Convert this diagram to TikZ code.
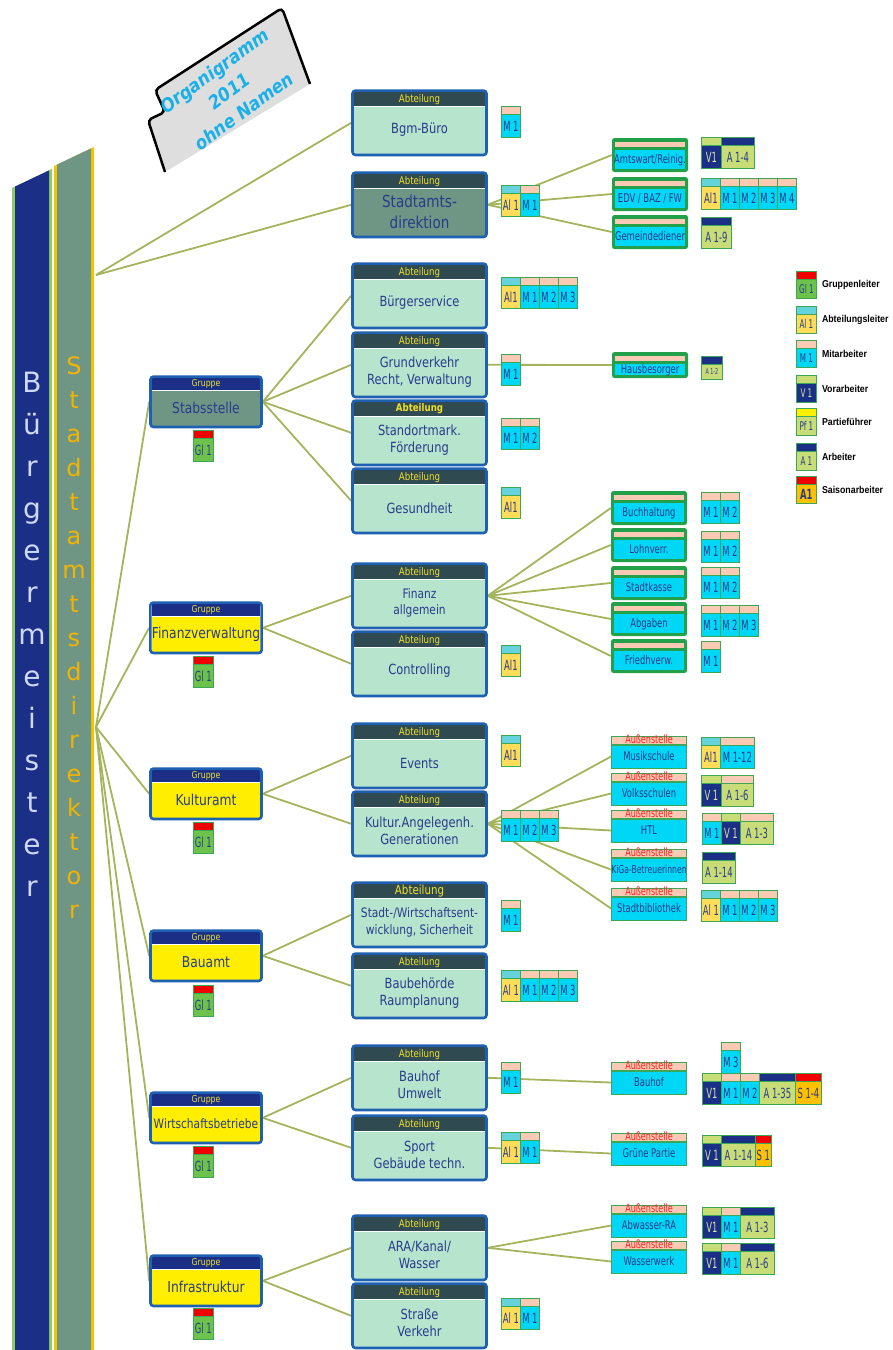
\documentclass[tikz,border=0pt]{standalone}
\usepackage{fontspec}
\setmainfont{DejaVu Sans}[FakeStretch=0.82]
\newfontfamily\cellfont{DejaVu Sans}[FakeStretch=0.6]
\newfontfamily\unitfont{DejaVu Sans}[FakeStretch=0.7]
\newfontfamily\barfont{DejaVu Sans}
\newfontfamily\titlefont{DejaVu Sans}[FakeStretch=0.9]
\newfontfamily\legendfont{Liberation Sans}[FakeStretch=0.88]
\usetikzlibrary{positioning, fit, backgrounds}
\definecolor{barblue}{RGB}{27, 47, 134}
\definecolor{baredge}{RGB}{143, 202, 106}
\definecolor{bargray}{RGB}{111, 149, 132}
\definecolor{baryellow}{RGB}{245, 196, 0}
\definecolor{bmtext}{RGB}{205, 218, 245}
\definecolor{sdtext}{RGB}{242, 180, 0}
\definecolor{linkcol}{RGB}{165, 180, 92}
\definecolor{frameblue}{RGB}{30, 96, 178}
\definecolor{abtslate}{RGB}{48, 74, 82}
\definecolor{headyellow}{RGB}{240, 226, 40}
\definecolor{abtmint}{RGB}{182, 228, 205}
\definecolor{navy}{RGB}{40, 60, 140}
\definecolor{grpyellow}{RGB}{255, 238, 0}
\definecolor{cellgreen}{RGB}{60, 168, 85}
\definecolor{unitgreen}{RGB}{34, 160, 74}
\definecolor{mcyan}{RGB}{0, 214, 246}
\definecolor{msalmon}{RGB}{251, 202, 180}
\definecolor{alyellow}{RGB}{255, 220, 90}
\definecolor{alcyan}{RGB}{102, 210, 220}
\definecolor{aolive}{RGB}{200, 220, 120}
\definecolor{vtext}{RGB}{215, 230, 160}
\definecolor{glgreen}{RGB}{108, 194, 74}
\definecolor{topred}{RGB}{240, 0, 0}
\definecolor{pfyellow}{RGB}{255, 240, 0}
\definecolor{sorange}{RGB}{255, 192, 0}
\definecolor{aured}{RGB}{255, 32, 32}
\definecolor{titlecyan}{RGB}{26, 176, 232}
\definecolor{cardgray}{RGB}{222, 222, 222}
\tikzset{
  link/.style={draw=linkcol, line width=1.8pt},
  bmletter/.style={text=bmtext, font=\barfont\fontsize{28}{28}\selectfont,
                   text height=21pt, text depth=6pt},
  sdletter/.style={text=sdtext, font=\barfont\fontsize{24}{24}\selectfont,
                   text height=18pt, text depth=5pt},
  titletext/.style={text=titlecyan, align=center,
                    font=\titlefont\bfseries\itshape\fontsize{18.5}{25}\selectfont},
  abtbody/.style={fill=abtmint, minimum width=131pt, minimum height=47pt, inner sep=1pt,
                  align=center, text=navy, font=\fontsize{14}{17}\selectfont},
  abthead/.style={fill=abtslate, minimum width=131pt, minimum height=14pt, inner sep=0pt,
                  text=headyellow, font=\fontsize{10.5}{12}\selectfont},
  grpbody/.style={fill=grpyellow, minimum width=108pt, minimum height=35pt, inner sep=0pt,
                  text=navy, font=\fontsize{15}{18}\selectfont},
  grphead/.style={fill=barblue, minimum width=108pt, minimum height=12pt, inner sep=0pt,
                  text=headyellow, font=\fontsize{9.5}{11}\selectfont},
  boxframe/.style={draw=frameblue, line width=2.6pt, rounded corners=3pt, inner sep=1.3pt},
  unit/.style={fill=unitgreen, rounded corners=2.5pt, minimum width=76pt, minimum height=34pt,
               inner sep=0pt, text=navy, font=\unitfont\fontsize{12}{13}\selectfont,
               text height=17.3pt, text depth=0pt,
               path picture={
                 \fill[msalmon, sharp corners] ([xshift=3pt, yshift=-3.5pt]path picture bounding box.north west)
                   rectangle ([xshift=-3pt, yshift=-8.5pt]path picture bounding box.north east);
                 \fill[mcyan, sharp corners] ([xshift=3pt, yshift=-11.5pt]path picture bounding box.north west)
                   rectangle ([xshift=-3pt, yshift=3pt]path picture bounding box.south east);}},
  aubody/.style={draw=cellgreen, line width=0.9pt, fill=mcyan, minimum width=75pt,
                 minimum height=23pt, inner sep=0pt, text=navy, font=\unitfont\fontsize{12}{13}\selectfont},
  auhead/.style={draw=cellgreen, line width=0.9pt, fill=msalmon, minimum width=75pt,
                 minimum height=8pt, inner sep=0pt, text=aured, font=\unitfont\fontsize{11.5}{11.5}\selectfont,
                 text height=6.5pt, text depth=0.5pt},
  staff/.style 2 args={draw=cellgreen, line width=0.8pt, fill=#1, anchor=north west,
                 minimum width=19pt, minimum height=31pt, inner sep=0pt, text=navy,
                 font=\cellfont\fontsize{14}{14}\selectfont, text height=18.2pt, text depth=0pt,
                 path picture={
                   \fill[#2] (path picture bounding box.north west)
                     rectangle ([yshift=-8pt]path picture bounding box.north east);
                   \draw[cellgreen, line width=0.6pt] ([yshift=-8pt]path picture bounding box.north west)
                     -- ([yshift=-8pt]path picture bounding box.north east);}},
  mcell/.style={staff={mcyan}{msalmon}},
  alcell/.style={staff={alyellow}{alcyan}},
  vcell/.style={staff={barblue}{aolive}, text=vtext},
  acell/.style={staff={aolive}{barblue}},
  aacell/.style={staff={aolive}{msalmon}},
  glcell/.style={staff={glgreen}{topred}},
  pfcell/.style={staff={aolive}{pfyellow}},
  scell/.style={staff={sorange}{topred}},
  legcell/.style={minimum width=20pt, minimum height=27pt,
                  font=\cellfont\fontsize{12}{12}\selectfont, text height=16.5pt},
  legtext/.style={font=\legendfont\bfseries\fontsize{10}{11}\selectfont, inner sep=0pt},
}
% Abteilung: [body options]{name}{body y}{header}{text}
\newcommand\abteilung[5][]{%
  \node[abtbody, #1] (#2-b) at (419.5,#3) {#5};
  \node[abthead, above=0pt of #2-b] (#2-h) {#4};
  \node[boxframe, fit=(#2-h)(#2-b)] (#2) {};}
% Gruppe: [body options]{name}{body y}{text}
\newcommand\gruppe[4][]{%
  \node[grpbody, #1] (#2-b) at (206,#3) {#4};
  \node[grphead, above=0pt of #2-b] (#2-h) {Gruppe};
  \node[boxframe, fit=(#2-h)(#2-b)] (#2) {};}
% Aussenstelle: [body options]{name}{body y}{text}
\newcommand\aussen[4][]{%
  \node[aubody, #1] (#2) at (649,#3) {#4};
  \node[auhead, above=0pt of #2] (#2-h) {Außenstelle};}

\begin{document}
\begin{tikzpicture}[x=1pt, y=-1pt]
  \useasboundingbox (0,0) rectangle (892,1350);

  % Buergermeister and Stadtamtsdirektor bars
  \fill[baredge]   (12,188) -- (52,169) -- (52,1350) -- (12,1350) -- cycle;
  \fill[barblue]   (15,186.6) -- (49,170.4) -- (49,1350) -- (15,1350) -- cycle;
  \fill[baryellow] (54,166) -- (94,147) -- (94,1350) -- (54,1350) -- cycle;
  \fill[bargray]   (57,164.6) -- (91,148.4) -- (91,1350) -- (57,1350) -- cycle;
  \foreach \ch [count=\k] in {B,ü,r,g,e,r,m,e,i,s,t,e,r}
    \node[bmletter] (bm\k) at (32,343+42*\k) {\ch};
  \foreach \ch [count=\k] in {S,t,a,d,t,a,m,t,s,d,i,r,e,k,t,o,r}
    \node[sdletter] (sd\k) at (74,334+34*\k) {\ch};
  \coordinate (sdtop) at (96,275);
  \coordinate (sdmid) at (96,727);

  % title card
  \fill[cardgray, rounded corners=4pt]
    (155,90) -- (282,8) -- (310,84) -- (165,172) -- (148,120) -- (165,112) -- cycle;
  \draw[line width=2.5pt, rounded corners=4pt]
    (165,172) -- (148,120) -- (165,112) -- (155,90) -- (282,8) -- (310,84);
  \node[titletext, rotate=36] (title) at (229,91) {Organigramm\\2011\\ohne Namen};

  % Gruppen
  \gruppe[fill=bargray]{stab}{408}{Stabsstelle}
  \gruppe{fin}{634}{Finanzverwaltung}
  \gruppe{kul}{800}{Kulturamt}
  \gruppe{bau}{962}{Bauamt}
  \gruppe[font=\fontsize{13}{15}\selectfont]{wb}{1124}{Wirtschaftsbetriebe}
  \gruppe{inf}{1287}{Infrastruktur}
  \foreach \g/\y in {stab/430, fin/656, kul/822, bau/985, wb/1146, inf/1308}
    \node[glcell, minimum width=20pt] (\g-gl) at (193,\y) {Gl 1};

  % Abteilungen
  \abteilung{bgm}{130}{Abteilung}{Bgm-Büro}
  \abteilung[fill=bargray, font=\fontsize{16.5}{21}\selectfont]{sad}{212}{Abteilung}{Stadtamts-\\direktion}
  \abteilung{bs}{303}{Abteilung}{Bürgerservice}
  \abteilung{gv}{372}{Abteilung}{Grundverkehr\\Recht, Verwaltung}
  \abteilung{sm}{440}{\bfseries Abteilung}{Standortmark.\\Förderung}
  \abteilung{ges}{508}{Abteilung}{Gesundheit}
  \abteilung[font=\fontsize{13}{16}\selectfont]{fa}{603}{Abteilung}{Finanz\\allgemein}
  \abteilung{con}{671}{Abteilung}{Controlling}
  \abteilung{ev}{763}{Abteilung}{Events}
  \abteilung{ka}{831}{Abteilung}{Kultur.Angelegenh.\\Generationen}
  \abteilung[font=\fontsize{13}{17}\selectfont]{sw}{922}{\fontsize{12.5}{13}\selectfont Abteilung}{Stadt-/Wirtschaftsent-\\wicklung, Sicherheit}
  \abteilung{bb}{993}{Abteilung}{Baubehörde\\Raumplanung}
  \abteilung{bu}{1085}{Abteilung}{Bauhof\\Umwelt}
  \abteilung{sp}{1155}{Abteilung}{Sport\\Gebäude techn.}
  \abteilung{ara}{1255}{Abteilung}{ARA/Kanal/\\Wasser}
  \abteilung{sv}{1323}{Abteilung}{Straße\\Verkehr}

  % units
  \node[unit] (aw)  at (650,155) {Amtswart/Reinig.};
  \node[unit] (edv) at (650,194) {EDV / BAZ / FW};
  \node[unit] (gd)  at (650,232) {Gemeindediener};
  \node[unit, minimum height=26pt] (hb) at (650,365) {Hausbesorger};
  \node[unit] (buch)  at (649,508) {Buchhaltung};
  \node[unit] (lohn)  at (649,545) {Lohnverr.};
  \node[unit] (kasse) at (649,583) {Stadtkasse};
  \node[unit] (abg)   at (649,619) {Abgaben};
  \node[unit] (fried) at (649,656) {Friedhverw.};
  \aussen{mus}{756.5}{Musikschule}
  \aussen{vs}{793.5}{Volksschulen}
  \aussen{htl}{830.5}{HTL}
  \aussen[font=\unitfont\fontsize{11}{12}\selectfont]{kiga}{869.5}{KiGa-Betreuerinnen}
  \aussen{bib}{908.5}{Stadtbibliothek}
  \aussen{bhf}{1082.5}{Bauhof}
  \aussen{gp}{1153.5}{Grüne Partie}
  \aussen{abw}{1225.5}{Abwasser-RA}
  \aussen{ww}{1261.5}{Wasserwerk}

  % staff
  \node[mcell] (bgm1) at (501,106) {M 1};
  \node[alcell] (sad1) at (501,185) {Al 1};
  \node[mcell]  (sad2) at (520,185) {M 1};
  \node[vcell, minimum width=20pt] (aw1) at (701,137) {V1};
  \node[acell, minimum width=33pt] (aw2) at (721,137) {A 1-4};
  \node[alcell] (edv0) at (701,178) {Al1};
  \foreach \i in {1,...,4}
    \node[mcell] (edv\i) at (701+19*\i,178) {M \i};
  \node[acell, minimum width=30pt] (gd1) at (701,217) {A 1-9};
  \node[alcell] (bs0) at (501,277) {Al1};
  \foreach \i in {1,2,3}
    \node[mcell] (bs\i) at (501+19*\i,277) {M \i};
  \node[mcell] (gv1) at (501,354) {M 1};
  \node[acell, minimum width=21pt, minimum height=23pt, font=\cellfont\fontsize{8}{8}\selectfont,
        text height=13.8pt] (hb1) at (701,356) {A 1-2};
  \node[mcell] (sm1) at (501,418) {M 1};
  \node[mcell] (sm2) at (520,418) {M 2};
  \node[alcell] (ges1) at (501,487) {Al1};
  \foreach \y/\n [count=\k] in {492/2, 531/2, 567/2, 605/3, 641/1}
    \foreach \i in {1,...,\n}
      \node[mcell] (fi\k\i) at (682+19*\i,\y) {M \i};
  \node[alcell] (con1) at (501,645) {Al1};
  \node[alcell] (ev1) at (501,735) {Al1};
  \foreach \i in {1,2,3}
    \node[mcell] (ka\i) at (482+19*\i,810) {M \i};
  \node[alcell] (mus1) at (701,737) {Al1};
  \node[mcell, minimum width=34pt] (mus2) at (720,737) {M 1-12};
  \node[vcell, minimum width=20pt] (vs1) at (701,775) {V 1};
  \node[aacell, minimum width=32pt] (vs2) at (721,775) {A 1-6};
  \node[mcell] (htl1) at (702,813) {M 1};
  \node[vcell] (htl2) at (721,813) {V 1};
  \node[aacell, minimum width=33pt] (htl3) at (740,813) {A 1-3};
  \node[acell, minimum width=33pt] (kiga1) at (702,852) {A 1-14};
  \node[alcell] (bib0) at (701,890) {Al 1};
  \foreach \i in {1,2,3}
    \node[mcell] (bib\i) at (701+19*\i,890) {M \i};
  \node[mcell] (sw1) at (501,900) {M 1};
  \node[alcell] (bb0) at (501,970) {Al 1};
  \foreach \i in {1,2,3}
    \node[mcell] (bb\i) at (501+19*\i,970) {M \i};
  \node[mcell] (bu1) at (501,1062) {M 1};
  \node[mcell] (bhf3) at (721,1042) {M 3};
  \node[vcell] (bhf0) at (702,1073) {V1};
  \node[mcell] (bhf1) at (721,1073) {M 1};
  \node[mcell] (bhf2) at (740,1073) {M 2};
  \node[acell, minimum width=36pt] (bhf4) at (759,1073) {A 1-35};
  \node[scell, minimum width=26pt] (bhf5) at (795,1073) {S 1-4};
  \node[alcell] (sp1) at (501,1132) {Al 1};
  \node[mcell] (sp2) at (520,1132) {M 1};
  \node[vcell] (gp1) at (702,1135) {V 1};
  \node[acell, minimum width=34pt] (gp2) at (721,1135) {A 1-14};
  \node[scell, minimum width=16pt] (gp3) at (755,1135) {S 1};
  \node[vcell] (abw1) at (702,1207) {V1};
  \node[mcell] (abw2) at (721,1207) {M 1};
  \node[acell, minimum width=34pt] (abw3) at (740,1207) {A 1-3};
  \node[vcell] (ww1) at (702,1243) {V1};
  \node[mcell] (ww2) at (721,1243) {M 1};
  \node[acell, minimum width=34pt] (ww3) at (740,1243) {A 1-6};
  \node[alcell] (sv1) at (501,1298) {Al 1};
  \node[mcell] (sv2) at (520,1298) {M 1};

  % legend
  \node[glcell, legcell] (lg1) at (796,271) {Gl 1};
  \node[alcell, legcell] (lg2) at (796,306) {Al 1};
  \node[mcell, legcell]  (lg3) at (796,340) {M 1};
  \node[vcell, legcell]  (lg4) at (796,375) {V 1};
  \node[pfcell, legcell] (lg5) at (796,408) {Pf 1};
  \node[acell, legcell]  (lg6) at (796,443) {A 1};
  \node[scell, legcell, font=\cellfont\bfseries\fontsize{14}{14}\selectfont,
        text height=18.2pt] (lg7) at (796,476) {A1};
  \node[legtext, right=5pt of lg1] (lt1) {Gruppenleiter};
  \node[legtext, right=5pt of lg2] (lt2) {Abteilungsleiter};
  \node[legtext, right=5pt of lg3] (lt3) {Mitarbeiter};
  \node[legtext, right=5pt of lg4] (lt4) {Vorarbeiter};
  \node[legtext, right=5pt of lg5] (lt5) {Partieführer};
  \node[legtext, right=5pt of lg6] (lt6) {Arbeiter};
  \node[legtext, right=5pt of lg7] (lt7) {Saisonarbeiter};

  % connectors
  \begin{scope}[on background layer]
    \draw[link] (sdtop) -- (bgm.west);
    \draw[link] (sdtop) -- (sad.west);
    \foreach \g in {stab, fin, kul, bau, wb, inf}
      \draw[link] (sdmid) -- (\g.west);
    \foreach \a in {bs, gv, sm, ges} \draw[link] (stab.east) -- (\a.west);
    \foreach \a in {fa, con} \draw[link] (fin.east) -- (\a.west);
    \foreach \a in {ev, ka} \draw[link] (kul.east) -- (\a.west);
    \foreach \a in {sw, bb} \draw[link] (bau.east) -- (\a.west);
    \foreach \a in {bu, sp} \draw[link] (wb.east) -- (\a.west);
    \foreach \a in {ara, sv} \draw[link] (inf.east) -- (\a.west);
    \foreach \u in {aw, edv, gd} \draw[link] (sad.east) -- (\u.west);
    \draw[link] (gv.east) -- (hb.west);
    \foreach \u in {buch, lohn, kasse, abg, fried} \draw[link] (fa.east) -- (\u.west);
    \foreach \u in {mus, vs, htl, kiga, bib} \draw[link] (ka.east) -- (\u.west);
    \draw[link] (bu.east) -- (bhf.west);
    \draw[link] (sp.east) -- (gp.west);
    \foreach \u in {abw, ww} \draw[link] (ara.east) -- (\u.west);
  \end{scope}
\end{tikzpicture}
\end{document}
